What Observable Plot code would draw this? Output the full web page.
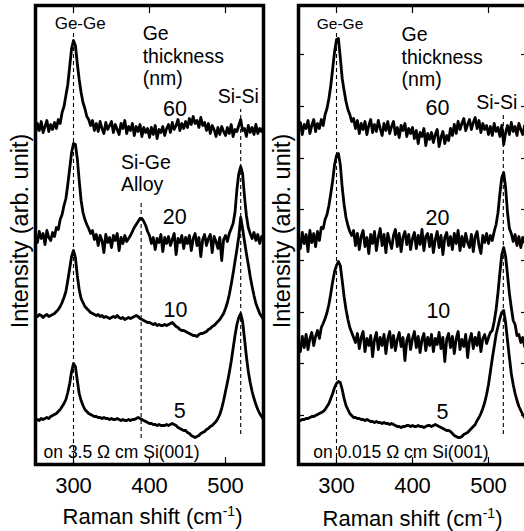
<!DOCTYPE html>
<html>
<head>
<meta charset="utf-8">
<script src="https://cdn.jsdelivr.net/npm/d3@7"></script>
<script src="https://cdn.jsdelivr.net/npm/@observablehq/plot@0.6"></script>
<style>
html,body{margin:0;padding:0;background:#fff;overflow:hidden;}
#wrap{position:relative;width:524px;height:531px;overflow:hidden;background:#fff;}
#wrap svg{position:absolute;top:0;max-width:none;}
</style>
</head>
<body>
<div id="wrap"></div>
<script>
// ---------- DATA ----------
const ramanShift = [
250,252.5,255,257.5,260,262.5,265,267.5,270,272.5,
275,277.5,280,282.5,285,287.5,290,292.5,295,297.5,
300,302.5,305,307.5,310,312.5,315,317.5,320,322.5,
325,327.5,330,332.5,335,337.5,340,342.5,345,347.5,
350,352.5,355,357.5,360,362.5,365,367.5,370,372.5,
375,377.5,380,382.5,385,387.5,390,392.5,395,397.5,
400,402.5,405,407.5,410,412.5,415,417.5,420,422.5,
425,427.5,430,432.5,435,437.5,440,442.5,445,447.5,
450,452.5,455,457.5,460,462.5,465,467.5,470,472.5,
475,477.5,480,482.5,485,487.5,490,492.5,495,497.5,
500,502.5,505,507.5,510,512.5,515,517.5,520,522.5,
525,527.5,530,532.5,535,537.5,540,542.5,545,547.5,
550];

const thicknessNm = ["60", "20", "10", "5"];

// left panel: on 3.5 ohm cm Si(001)
const left60 = [
331,341,334,343,332,338,344,333,340,335,
342,336,345,341,352,358,369,380,398,416,
424,419,401,385,372,362,356,348,345,339,
344,334,341,333,343,336,331,342,335,339,
343,332,340,335,330,341,336,344,331,338,
334,341,329,338,333,340,328,337,332,336,
327,337,330,339,326,335,332,338,329,336,
340,332,342,335,339,345,334,341,336,343,
337,346,340,348,341,344,337,347,339,342,
334,341,331,339,335,328,337,330,338,333,
329,337,331,340,328,335,333,339,345,334,
336,328,339,332,337,330,340,331,336,333,
338];
const left20 = [
229,222,233,226,231,220,234,227,224,232,
228,237,235,245,250,259,266,280,296,312,
321,320,306,284,264,252,245,240,236,231,
234,225,230,219,229,224,212,230,222,227,
217,229,224,231,214,227,221,229,223,226,
229,233,237,240,243,246,246,243,239,233,
229,221,227,215,226,222,230,213,227,221,
228,219,225,231,210,226,222,229,216,227,
221,229,214,226,231,219,227,208,225,230,
219,226,230,212,228,223,216,227,204,225,
229,223,231,236,241,252,275,291,298,291,
268,249,237,231,226,232,224,230,221,228,
226];
const left10 = [
149,148,150,149,147,149,150,148,149,150,
151,153,155,158,162,167,173,184,196,208,
214,207,189,175,166,162,158,156,154,152,
151,150,149,150,148,149,147,148,147,146,
147,148,147,149,147,146,147,145,146,147,
146,147,148,149,148,146,145,144,143,142,
142,141,140,141,139,140,139,139,140,139,
140,141,142,140,138,137,135,134,134,133,
132,131,130,129,129,128,130,131,131,132,
133,135,136,138,139,141,143,145,148,151,
156,162,170,180,191,203,215,228,247,236,
223,211,200,188,178,169,161,156,151,148,
145];
const left5 = [
44,45,44,46,45,46,47,46,48,49,
50,51,53,55,58,61,65,72,81,93,
101,98,84,71,64,59,55,53,51,50,
49,48,48,47,47,46,47,46,46,45,
46,45,45,46,45,44,45,44,44,45,
44,45,45,46,47,46,45,44,43,42,
41,41,40,40,39,40,39,39,39,40,
39,40,41,40,39,37,36,35,34,34,
32,31,29,28,27,28,29,31,32,33,
35,36,38,39,41,43,46,50,56,64,
73,82,92,103,116,129,140,147,151,143,
126,108,93,82,73,66,60,55,51,48,
45];

// right panel: on 0.015 ohm cm Si(001)
const right60 = [
334,342,330,340,336,344,331,339,345,333,
341,336,345,339,350,356,366,379,396,413,
425,426,407,386,374,363,355,350,343,346,
336,344,331,341,335,343,330,339,345,332,
340,333,344,336,329,341,334,343,331,338,
343,330,337,327,339,334,341,328,336,331,
337,326,334,321,332,328,336,319,331,325,
332,322,330,335,318,327,333,321,329,324,
336,329,340,331,343,335,341,346,334,340,
345,335,342,347,336,344,332,341,335,339,
330,338,329,341,333,337,328,339,320,332,
339,330,342,333,338,329,341,335,330,339,
335];
const right20 = [
228,216,232,221,230,213,234,222,231,218,
233,224,237,236,245,250,259,271,284,300,
309,311,300,277,260,247,239,233,229,234,
219,231,215,228,234,218,227,211,230,221,
233,214,227,236,219,230,212,231,223,216,
229,235,218,231,213,227,233,220,230,215,
226,232,216,229,220,235,214,228,231,218,
230,212,225,233,217,229,210,227,232,219,
228,215,231,221,234,214,228,218,231,222,
217,230,213,228,233,219,211,229,222,231,
221,229,224,233,240,252,271,287,292,277,
252,236,231,223,230,219,228,217,227,222,
226];
const right10 = [
123,113,128,117,130,115,126,132,119,128,
134,126,137,141,146,152,160,171,183,193,
199,203,199,184,168,155,145,137,132,127,
122,131,116,127,133,113,126,119,129,108,
125,132,115,127,119,130,111,126,133,117,
129,114,125,132,118,127,104,124,130,115,
126,133,117,128,112,125,131,114,127,119,
130,113,126,120,132,116,127,103,125,131,
117,128,111,126,133,115,125,118,130,107,
124,131,116,127,119,132,113,126,130,121,
127,132,134,143,155,172,192,210,217,208,
190,171,157,144,140,129,130,122,127,118,
124];
const right5 = [
44,44,45,45,46,46,47,48,48,49,
50,51,52,53,55,58,61,66,71,77,
81,83,82,75,66,59,55,51,49,47,
47,46,46,45,45,44,45,44,43,43,
42,43,42,42,41,42,41,41,40,41,
40,39,38,38,37,38,38,39,39,38,
39,38,38,39,38,38,37,38,39,39,
38,39,40,39,38,37,36,35,34,34,
33,31,29,28,27,27,28,30,31,32,
34,36,38,40,44,47,51,56,62,70,
80,93,106,118,130,138,146,152,154,142,
124,107,91,80,71,64,58,54,50,47,
46];

const xTicks = [300, 400, 500];
const rightYTicks = [49, 101, 152, 204, 255, 306, 358, 410];
const xLabel = "Raman shift (cm-1)";
const yLabel = "Intensity (arb. unit)";

// peak guide lines (Raman shift, intensity range)
const leftGuides = [
  {shift: 300, from: 0, to: 432},
  {shift: 389, from: 26, to: 264},
  {shift: 520, from: 30, to: 355}
];
const rightGuides = [
  {shift: 300, from: 0, to: 433},
  {shift: 519.5, from: 30, to: 352}
];

// annotations (Raman shift, intensity)
const leftNotes = [
  {text: "Ge-Ge", shift: 308.8, intensity: 436, kind: "bond"},
  {text: "Si-Si", shift: 516.9, intensity: 362, kind: "bond2"},
  {text: "Ge", shift: 391, intensity: 425, kind: "header"},
  {text: "thickness", shift: 391, intensity: 402, kind: "header"},
  {text: "(nm)", shift: 391, intensity: 380, kind: "header"},
  {text: "Si-Ge", shift: 362.5, intensity: 296, kind: "header"},
  {text: "Alloy", shift: 362.5, intensity: 274, kind: "header"},
  {text: "60", shift: 433.6, intensity: 349, kind: "thick"},
  {text: "20", shift: 433.1, intensity: 241, kind: "thick"},
  {text: "10", shift: 434.2, intensity: 148, kind: "thick"},
  {text: "5", shift: 439.9, intensity: 47, kind: "thick"},
  {text: "on 3.5 Ω cm Si(001)", shift: 260.6, intensity: 7, kind: "substrate"}
];
const rightNotes = [
  {text: "Ge-Ge", shift: 304.6, intensity: 436, kind: "bond"},
  {text: "Si-Si", shift: 510.8, intensity: 356, kind: "bond2"},
  {text: "Ge", shift: 385.6, intensity: 424, kind: "header"},
  {text: "thickness", shift: 385.6, intensity: 401, kind: "header"},
  {text: "(nm)", shift: 385.6, intensity: 379, kind: "header"},
  {text: "60", shift: 432.9, intensity: 350, kind: "thick"},
  {text: "20", shift: 432.9, intensity: 240, kind: "thick"},
  {text: "10", shift: 434.0, intensity: 147, kind: "thick"},
  {text: "5", shift: 439.5, intensity: 46, kind: "thick"},
  {text: "on 0.015 Ω cm Si(001)", shift: 269.3, intensity: 7, kind: "substrate"}
];

// ---------- DRAW ----------
const fontFamily = '"Liberation Sans", Arial, Helvetica, sans-serif';

function drawPanel(cfg) {
  const rows = [];
  cfg.spectra.forEach((values, j) => values.forEach((v, i) =>
    rows.push({shift: ramanShift[i], intensity: v, thickness: thicknessNm[j]})));

  const marks = [
    Plot.ruleX(cfg.guides, {x: "shift", y1: "from", y2: "to", stroke: "#000", strokeWidth: 1.1, strokeDasharray: "4,3"}),
    Plot.line(rows, {x: "shift", y: "intensity", z: "thickness", stroke: "#000", strokeWidth: 2.8, strokeLinejoin: "round", strokeLinecap: "round"}),
    Plot.frame({stroke: "#000", strokeWidth: 3.5}),
    Plot.axisX({anchor: "bottom", ticks: xTicks, tickSize: -7, tickPadding: 20, fontSize: 22, label: null, tickFormat: d => String(d), strokeWidth: 1.2}),
    Plot.axisX({anchor: "top", ticks: xTicks, tickSize: -7, label: null, tickFormat: () => "", strokeWidth: 1.2})
  ];
  if (cfg.yTicks) {
    marks.push(Plot.axisY({anchor: "left", ticks: cfg.yTicks, tickSize: -6, label: null, tickFormat: () => "", strokeWidth: 1.2}));
    marks.push(Plot.axisY({anchor: "right", ticks: cfg.yTicks, tickSize: -6, label: null, tickFormat: () => "", strokeWidth: 1.2}));
  }
  for (const [kind, st] of Object.entries(cfg.kinds)) {
    marks.push(Plot.text(cfg.notes.filter(d => d.kind === kind), {
      x: "shift", y: "intensity", text: "text", fontSize: st.size, textAnchor: st.anchor, lineAnchor: "bottom", fill: "#000"
    }));
  }
  marks.push(Plot.text([xLabel], {frameAnchor: "bottom", text: d => d, dx: cfg.xLabelDx, dy: cfg.xLabelDy, textAnchor: "middle", lineAnchor: "bottom", fontSize: 22, fill: "#000"}));
  marks.push(Plot.text([yLabel], {frameAnchor: "left", text: d => d, rotate: -90, dx: cfg.yLabelDx, dy: -4, textAnchor: "middle", lineAnchor: "middle", fontSize: 23.5, fill: "#000"}));

  const svg = Plot.plot({
    width: cfg.width, height: 531,
    marginLeft: cfg.marginLeft, marginRight: cfg.marginRight, marginTop: 5, marginBottom: 67,
    x: {domain: [250, 550]},
    y: {domain: [0, 459], axis: cfg.yTicks ? undefined : null},
    style: {fontFamily, background: "transparent", overflow: "visible", color: "#000"},
    marks
  });

  // superscript in the x-axis title
  d3.select(svg).selectAll("text").filter(function () { return this.textContent === xLabel; }).each(function () {
    const t = d3.select(this);
    t.text(null);
    t.append("tspan").text("Raman shift (cm");
    t.append("tspan").attr("dy", -8).attr("font-size", 14).text("-1");
    t.append("tspan").attr("dy", 8).text(")");
  });
  svg.style.left = cfg.left + "px";
  document.getElementById("wrap").appendChild(svg);
}

drawPanel({
  spectra: [left60, left20, left10, left5],
  guides: leftGuides, notes: leftNotes,
  kinds: {
    bond: {size: 17, anchor: "middle"}, bond2: {size: 19.5, anchor: "middle"},
    header: {size: 19.5, anchor: "start"}, thick: {size: 21.5, anchor: "middle"},
    substrate: {size: 17.5, anchor: "start"}
  },
  width: 266, marginLeft: 35, marginRight: 3, left: 0,
  xLabelDx: 3, xLabelDy: 59, yLabelDx: -15
});
drawPanel({
  spectra: [right60, right20, right10, right5],
  guides: rightGuides, notes: rightNotes, yTicks: rightYTicks,
  kinds: {
    bond: {size: 15.5, anchor: "middle"}, bond2: {size: 19.5, anchor: "middle"},
    header: {size: 19.5, anchor: "start"}, thick: {size: 21.5, anchor: "middle"},
    substrate: {size: 17.5, anchor: "start"}
  },
  width: 266, marginLeft: 36, marginRight: 2, left: 262,
  xLabelDx: 0, xLabelDy: 61, yLabelDx: -16
});
</script>
</body>
</html>
